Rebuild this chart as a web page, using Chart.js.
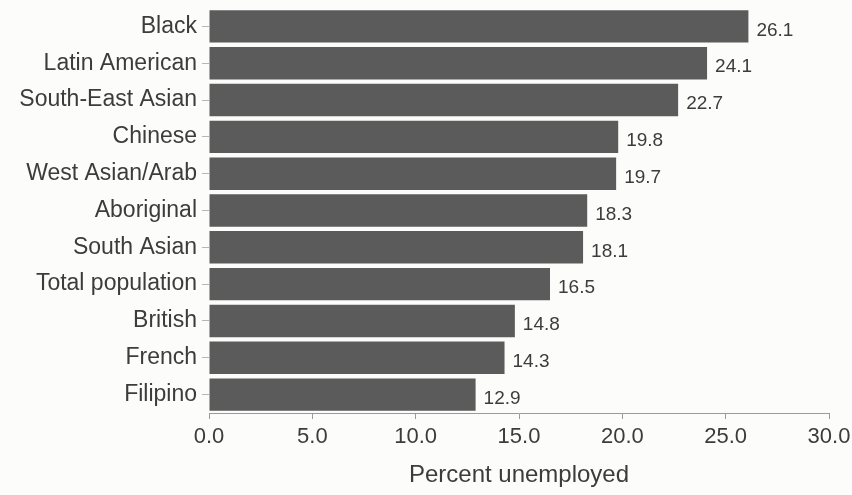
<!DOCTYPE html>
<html>
<head>
<meta charset="utf-8">
<script src="https://cdn.jsdelivr.net/npm/chart.js@4"></script>
<style>
  html, body { margin: 0; padding: 0; background: #fcfcfb; }
  #wrap { width: 852px; height: 495px; }
</style>
</head>
<body>
<div id="wrap"><canvas id="grafica" width="852" height="495"></canvas></div>
<script>
// Datos de la grafica
const grupos = ["Black", "Latin American", "South-East Asian", "Chinese", "West Asian/Arab",
  "Aboriginal", "South Asian", "Total population", "British", "French", "Filipino"];
const desempleo = [26.1, 24.1, 22.7, 19.8, 19.7, 18.3, 18.1, 16.5, 14.8, 14.3, 12.9];
const marcasX = [0, 5, 10, 15, 20, 25, 30];

const gris = '#5b5b5b';
const texto = '#3c3c3c';
const fuente = "'Liberation Sans', Arial, Helvetica, sans-serif";

// Escribe el valor al final de cada barra
const etiquetasValor = {
  id: 'etiquetasValor',
  afterDatasetsDraw(chart) {
    const ctx = chart.ctx;
    const meta = chart.getDatasetMeta(0);
    ctx.save();
    ctx.font = '19px ' + fuente;
    ctx.fillStyle = texto;
    ctx.textAlign = 'left';
    ctx.textBaseline = 'middle';
    meta.data.forEach((bar, i) => {
      ctx.fillText(desempleo[i].toFixed(1), bar.x + 8, bar.y + 4);
    });
    ctx.restore();
  }
};

const $grafica = document.getElementById('grafica');
const chart = new Chart($grafica, {
  type: 'bar',
  data: {
    labels: grupos,
    datasets: [{
      label: 'Percent unemployed',
      data: desempleo,
      backgroundColor: gris,
      borderWidth: 0,
      barPercentage: 0.88,
      categoryPercentage: 1.0
    }]
  },
  options: {
    indexAxis: 'y',
    responsive: false,
    animation: false,
    layout: { padding: { top: 8, right: 23, left: 0, bottom: 0 } },
    plugins: {
      legend: { display: false },
      tooltip: { enabled: false }
    },
    scales: {
      y: {
        afterFit(s) { s.width = 209; s.paddingTop = 0; s.paddingBottom = 0; },
        grid: {
          display: true,
          drawOnChartArea: false,
          offset: false,
          tickLength: 7,
          color: '#b5b5b5'
        },
        border: { display: false },
        ticks: {
          color: texto,
          padding: 5,
          font: { family: fuente, size: 23 }
        }
      },
      x: {
        min: 0,
        max: 30,
        afterFit(s) { s.height = 82; s.paddingRight = 0; s.paddingLeft = 0; },
        afterBuildTicks(s) { s.ticks = marcasX.map(v => ({ value: v })); },
        grid: {
          drawOnChartArea: false,
          tickLength: 6,
          color: '#9a9a9a'
        },
        border: { display: true, color: '#9a9a9a', width: 1 },
        ticks: {
          color: texto,
          padding: 5,
          maxRotation: 0,
          font: { family: fuente, size: 22 },
          callback: v => Number(v).toFixed(1)
        },
        title: {
          display: true,
          text: 'Percent unemployed',
          color: texto,
          padding: { top: 4, bottom: 5 },
          font: { family: fuente, size: 24 }
        }
      }
    }
  },
  plugins: [etiquetasValor]
});
</script>
</body>
</html>
